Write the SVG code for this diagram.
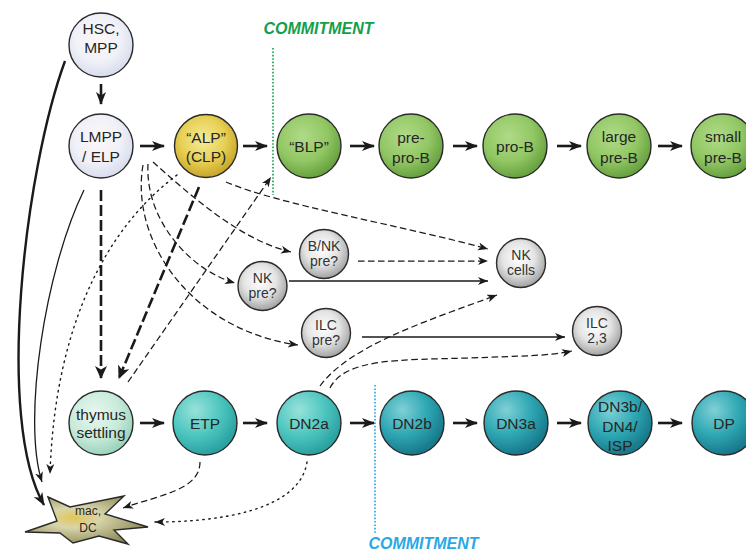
<svg xmlns="http://www.w3.org/2000/svg" width="746" height="555" viewBox="0 0 746 555">
<defs>
<style>
text{font-family:"Liberation Sans",Arial,sans-serif;fill:#262626;text-anchor:middle}
.t{font-size:15.5px}
.s{font-size:14px;fill:#333}
.c{stroke:#2a2a2a;stroke-width:1.4}
.cm{font-size:16px;font-weight:bold;font-style:italic}
.main{stroke:#1a1a1a;stroke-width:2.6;fill:none;marker-end:url(#ah)}
.dsh{stroke:#1a1a1a;stroke-width:1.25;fill:none;stroke-dasharray:6.5 3.5;marker-end:url(#as)}
.thick{stroke:#1a1a1a;stroke-width:2.6;fill:none;stroke-dasharray:11 4;marker-end:url(#ab)}
.dot{stroke:#1a1a1a;stroke-width:1.4;fill:none;stroke-dasharray:1.5 4.5;stroke-linecap:round;marker-end:url(#as)}
.sol{stroke:#1a1a1a;stroke-width:1.3;fill:none;marker-end:url(#as)}
</style>
<marker id="ah" markerWidth="14" markerHeight="12" refX="12" refY="5" orient="auto" markerUnits="userSpaceOnUse"><path d="M0,0 L13,5 L0,10 L3.5,5 z" fill="#1a1a1a"/></marker>
<marker id="ab" markerWidth="14" markerHeight="14" refX="12" refY="6" orient="auto" markerUnits="userSpaceOnUse"><path d="M0,0 L13,6 L0,12 L3.5,6 z" fill="#1a1a1a"/></marker>
<marker id="as" markerWidth="12" markerHeight="10" refX="10" refY="4" orient="auto" markerUnits="userSpaceOnUse"><path d="M0,0 L10,4 L0,8 L2.8,4 z" fill="#1a1a1a"/></marker>
<radialGradient id="gPale" cx="45%" cy="40%" r="60%"><stop offset="0" stop-color="#fdf6f6"/><stop offset="0.6" stop-color="#f0f1f8"/><stop offset="1" stop-color="#d8dcec"/></radialGradient>
<radialGradient id="gYel" cx="45%" cy="40%" r="60%"><stop offset="0" stop-color="#f6ec9c"/><stop offset="0.6" stop-color="#e6cf52"/><stop offset="1" stop-color="#c6a52a"/></radialGradient>
<radialGradient id="gGrn" cx="40%" cy="35%" r="65%"><stop offset="0" stop-color="#b0da88"/><stop offset="0.6" stop-color="#92c764"/><stop offset="1" stop-color="#68a140"/></radialGradient>
<radialGradient id="gGry" cx="45%" cy="40%" r="60%"><stop offset="0" stop-color="#ffffff"/><stop offset="0.55" stop-color="#e4e4e4"/><stop offset="1" stop-color="#a2a2a2"/></radialGradient>
<radialGradient id="gMint" cx="40%" cy="35%" r="65%"><stop offset="0" stop-color="#e8f7ef"/><stop offset="0.6" stop-color="#c8ebda"/><stop offset="1" stop-color="#9cd3bd"/></radialGradient>
<radialGradient id="gTeal" cx="35%" cy="30%" r="70%"><stop offset="0" stop-color="#98e2da"/><stop offset="0.55" stop-color="#4fc7c0"/><stop offset="1" stop-color="#2aa2a2"/></radialGradient>
<radialGradient id="gDark" cx="35%" cy="30%" r="70%"><stop offset="0" stop-color="#80d0d6"/><stop offset="0.55" stop-color="#2fa8b4"/><stop offset="1" stop-color="#177a8c"/></radialGradient>
<radialGradient id="gStar" cx="40%" cy="45%" r="60%"><stop offset="0" stop-color="#e2c658"/><stop offset="0.35" stop-color="#d9d5aa"/><stop offset="1" stop-color="#8c8a5a"/></radialGradient>
</defs>
<rect width="746" height="555" fill="#ffffff"/>

<g id="commitment-lines">
<line x1="273" y1="48" x2="273" y2="195" stroke="#1ea552" stroke-width="1.7" stroke-dasharray="1.6 1.8"/>
<text class="cm" x="318.5" y="34" style="fill:#14a04a">COMMITMENT</text>
<line x1="375" y1="385" x2="375" y2="533" stroke="#2aa8e6" stroke-width="1.7" stroke-dasharray="1.6 1.8"/>
<text class="cm" x="423.5" y="549" style="fill:#2aa8e6">COMMITMENT</text>
</g>

<g id="connectors">
<line class="main" x1="101" y1="84" x2="101" y2="104"/>
<line class="main" x1="140" y1="146" x2="164" y2="146"/>
<line class="main" x1="243" y1="146" x2="267" y2="146"/>
<line class="main" x1="350" y1="146" x2="374" y2="146"/>
<line class="main" x1="453" y1="146" x2="477" y2="146"/>
<line class="main" x1="557" y1="146" x2="581" y2="146"/>
<line class="main" x1="658" y1="146" x2="682" y2="146"/>
<line class="main" x1="140" y1="423" x2="164" y2="423"/>
<line class="main" x1="243" y1="423" x2="267" y2="423"/>
<line class="main" x1="350" y1="423" x2="374" y2="423"/>
<line class="main" x1="453" y1="423" x2="477" y2="423"/>
<line class="main" x1="557" y1="423" x2="581" y2="423"/>
<line class="main" x1="658" y1="423" x2="682" y2="423"/>
<path d="M65,61 C25,170 -5,420 44,505" stroke="#1a1a1a" stroke-width="2.4" fill="none" marker-end="url(#ah)"/>
<path class="sol" d="M84,190 C45,270 22,420 42,482"/>
<path class="dot" d="M177,175 C110,225 55,320 50,474"/>
<line class="thick" x1="101" y1="190" x2="101" y2="378"/>
<line class="thick" x1="199" y1="187" x2="119" y2="378"/>
<path class="dsh" d="M128,382 L271,177"/>
<path class="dsh" d="M143,165 C130,240 190,330 298,345"/>
<path class="dsh" d="M148,164 C145,220 190,270 235,283"/>
<path class="dsh" d="M153,162 C190,195 240,240 291,252"/>
<path class="dsh" d="M226,182 C280,205 400,225 488,249"/>
<line class="dsh" x1="358" y1="261" x2="488" y2="261"/>
<line class="sol" x1="289" y1="281" x2="488" y2="281"/>
<line class="sol" x1="362" y1="337" x2="565" y2="337"/>
<path class="dsh" d="M320,386 C350,345 430,320 497,295"/>
<path class="dsh" d="M330,388 C345,358 400,360 470,358 C520,356 550,356 572,351"/>
<path class="dot" d="M307,462 C300,510 220,522 155,522"/>
<path class="dsh" d="M200,462 C200,490 160,495 123,508"/>
</g>

<g id="hsc"><circle class="c" cx="101" cy="45" r="32" fill="url(#gPale)"/><text class="t" x="101" y="34">HSC,</text><text class="t" x="101" y="53">MPP</text></g>
<g id="lmpp"><circle class="c" cx="101" cy="146" r="32" fill="url(#gPale)"/><text class="t" x="101" y="142">LMPP</text><text class="t" x="101" y="162">/ ELP</text></g>
<g id="alp"><circle class="c" cx="206" cy="146" r="31.5" fill="url(#gYel)"/><text class="t" x="206" y="143">“ALP”</text><text class="t" x="206" y="162">(CLP)</text></g>
<g id="blp"><circle class="c" cx="309" cy="146" r="32" fill="url(#gGrn)"/><text class="t" x="309" y="152">“BLP”</text></g>
<g id="prepro"><circle class="c" cx="411" cy="146" r="32" fill="url(#gGrn)"/><text class="t" x="411" y="143">pre-</text><text class="t" x="411" y="163">pro-B</text></g>
<g id="prob"><circle class="c" cx="515" cy="146" r="32" fill="url(#gGrn)"/><text class="t" x="515" y="152">pro-B</text></g>
<g id="largepreb"><circle class="c" cx="619" cy="146" r="32" fill="url(#gGrn)"/><text class="t" x="619" y="142">large</text><text class="t" x="619" y="163">pre-B</text></g>
<g id="smallpreb"><circle class="c" cx="723" cy="146" r="32" fill="url(#gGrn)"/><text class="t" x="723" y="142">small</text><text class="t" x="723" y="163">pre-B</text></g>

<g id="bnkpre"><circle class="c" cx="324" cy="254" r="24.5" fill="url(#gGry)"/><text class="s" x="324" y="251">B/NK</text><text class="s" x="324" y="266">pre?</text></g>
<g id="nkpre"><circle class="c" cx="262.5" cy="286" r="24.5" fill="url(#gGry)"/><text class="s" x="262.5" y="283">NK</text><text class="s" x="262.5" y="298">pre?</text></g>
<g id="ilcpre"><circle class="c" cx="326" cy="333" r="24.5" fill="url(#gGry)"/><text class="s" x="326" y="330">ILC</text><text class="s" x="326" y="345">pre?</text></g>
<g id="nkcells"><circle class="c" cx="521" cy="263" r="24.5" fill="url(#gGry)"/><text class="s" x="521" y="260">NK</text><text class="s" x="521" y="275">cells</text></g>
<g id="ilc23"><circle class="c" cx="597" cy="331" r="24.5" fill="url(#gGry)"/><text class="s" x="597" y="328">ILC</text><text class="s" x="597" y="343">2,3</text></g>

<g id="thymus"><circle class="c" cx="101" cy="423" r="32" fill="url(#gMint)"/><text class="t" x="101" y="420">thymus</text><text class="t" x="101" y="438">settling</text></g>
<g id="etp"><circle class="c" cx="205" cy="423" r="32" fill="url(#gTeal)"/><text class="t" x="205" y="429">ETP</text></g>
<g id="dn2a"><circle class="c" cx="309" cy="423" r="32" fill="url(#gTeal)"/><text class="t" x="309" y="429">DN2a</text></g>
<g id="dn2b"><circle class="c" cx="412" cy="423" r="32" fill="url(#gDark)"/><text class="t" x="412" y="429">DN2b</text></g>
<g id="dn3a"><circle class="c" cx="516" cy="423" r="32" fill="url(#gDark)"/><text class="t" x="516" y="429">DN3a</text></g>
<g id="dn3b"><circle class="c" cx="620" cy="423" r="32" fill="url(#gDark)"/><text class="t" x="620" y="412">DN3b/</text><text class="t" x="620" y="432">DN4/</text><text class="t" x="620" y="451">ISP</text></g>
<g id="dp"><circle class="c" cx="724" cy="423" r="32" fill="url(#gDark)"/><text class="t" x="724" y="429">DP</text></g>

<g id="macdc"><polygon class="c" points="48,497 70,507 124,496 105,514 148,527 114,530 128,544 99,536 73,543 60,533 25,532 57,521" fill="url(#gStar)"/><text x="88" y="515" style="font-size:12px">mac,</text><text x="88" y="532" style="font-size:12px">DC</text></g>
</svg>
